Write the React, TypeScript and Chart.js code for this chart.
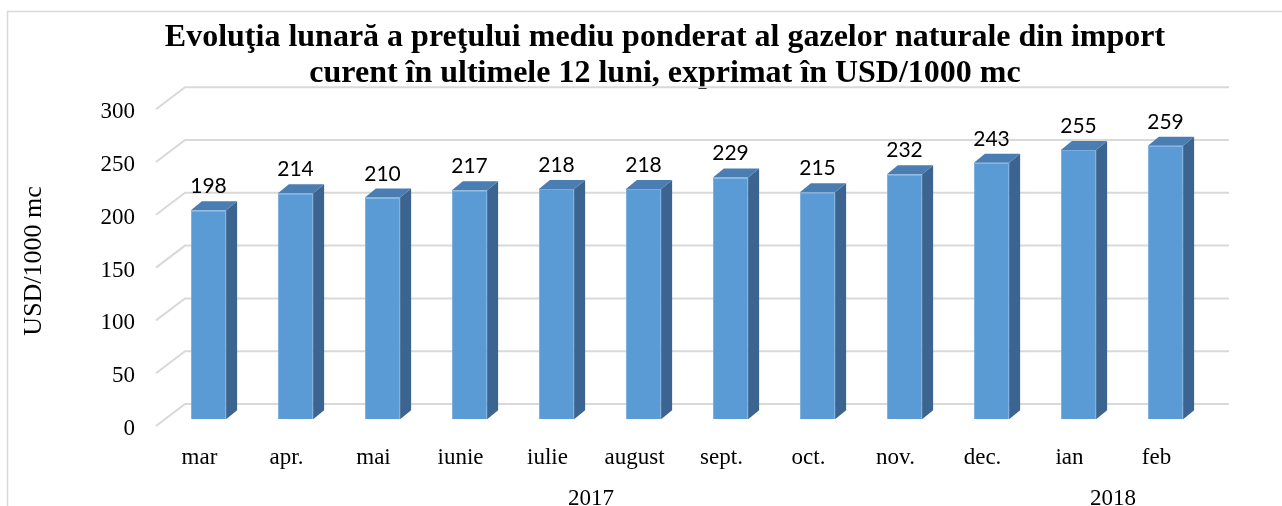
import React, { useEffect, useRef } from "react";
import { Chart, registerables } from "chart.js";

Chart.register(...registerables);

// ---- data ----
const months = ["mar", "apr.", "mai", "iunie", "iulie", "august", "sept.", "oct.", "nov.", "dec.", "ian", "feb"];
const prices = [198, 214, 210, 217, 218, 218, 229, 215, 232, 243, 255, 259];
const years = ["2017", "2018"];
const yearSpans = [10, 2];
const yMin = 0;
const yMax = 300;
const yStep = 50;
const titleLines = [
  "Evoluţia lunară a preţului mediu ponderat al gazelor naturale din import",
  "curent în ultimele 12 luni, exprimat în USD/1000 mc",
];
const yAxisTitle = "USD/1000 mc";

// ---- look ----
const W = 1282;
const H = 506;
const SERIF = "'Liberation Serif', 'Times New Roman', serif";
const SANS = "Lato, 'Open Sans', sans-serif";
const GRID = "#d9d9d9";
const FRONT = "#5b9bd5";
const SIDE = "#3b6590";
const TOP = "#4a7db2";
// 3D offsets relative to the bar plane
const BACK_DX = 20;
const BACK_DY = -15.3;
const FRONT_DX = -9;
const FRONT_DY = 6.7;
const DEPTH_DX = 11;
const DEPTH_DY = -9;

const threeD = {
  id: "threeD",
  beforeDraw(chart: any) {
    const ctx = chart.ctx;
    ctx.save();
    ctx.fillStyle = "#fff";
    ctx.fillRect(0, 0, W, H);
    ctx.strokeStyle = GRID;
    ctx.lineWidth = 1.5;
    ctx.beginPath();
    ctx.moveTo(7.5, H);
    ctx.lineTo(7.5, 11.5);
    ctx.lineTo(W, 11.5);
    ctx.stroke();
    ctx.fillStyle = "#000";
    ctx.font = `bold 32px ${SERIF}`;
    ctx.textAlign = "center";
    ctx.textBaseline = "alphabetic";
    titleLines.forEach((t, i) => ctx.fillText(t, 665, 46 + i * 36));
    ctx.restore();
  },
  beforeDatasetsDraw(chart: any) {
    const { ctx, chartArea: a } = chart;
    const y = chart.scales.y;
    ctx.save();
    ctx.strokeStyle = GRID;
    ctx.lineWidth = 2;
    y.ticks.forEach((t: any) => {
      const py = y.getPixelForValue(t.value);
      ctx.beginPath();
      ctx.moveTo(a.left + FRONT_DX, py + FRONT_DY);
      ctx.lineTo(a.left + BACK_DX, py + BACK_DY);
      ctx.lineTo(a.right + BACK_DX, py + BACK_DY);
      ctx.stroke();
    });
    ctx.restore();
  },
  afterDatasetsDraw(chart: any) {
    const ctx = chart.ctx;
    const meta = chart.getDatasetMeta(0);
    ctx.save();
    meta.data.forEach((bar: any, i: number) => {
      const { x, y, base, width } = bar.getProps(["x", "y", "base", "width"], true);
      const l = x - width / 2;
      const r = x + width / 2;
      ctx.fillStyle = SIDE;
      ctx.beginPath();
      ctx.moveTo(r, y);
      ctx.lineTo(r + DEPTH_DX, y + DEPTH_DY);
      ctx.lineTo(r + DEPTH_DX, base + DEPTH_DY);
      ctx.lineTo(r, base);
      ctx.closePath();
      ctx.fill();
      ctx.fillStyle = TOP;
      ctx.beginPath();
      ctx.moveTo(l, y);
      ctx.lineTo(l + DEPTH_DX, y + DEPTH_DY);
      ctx.lineTo(r + DEPTH_DX, y + DEPTH_DY);
      ctx.lineTo(r, y);
      ctx.closePath();
      ctx.fill();
      ctx.fillStyle = "#000";
      ctx.font = `21px ${SANS}`;
      ctx.textAlign = "center";
      ctx.textBaseline = "alphabetic";
      ctx.fillText(String(chart.data.datasets[0].data[i]), x, y - 17);
    });
    const xs = chart.scales.x;
    ctx.font = `23px ${SERIF}`;
    ctx.textAlign = "center";
    ctx.textBaseline = "middle";
    ctx.fillStyle = "#000";
    let start = 0;
    years.forEach((yr, k) => {
      const end = start + yearSpans[k] - 1;
      const cx = (xs.getPixelForValue(start) + xs.getPixelForValue(end)) / 2 + FRONT_DX;
      ctx.fillText(yr, cx, 499);
      start += yearSpans[k];
    });
    ctx.restore();
  },
};

export default function App() {
  const ref = useRef<HTMLCanvasElement | null>(null);
  useEffect(() => {
    if (!ref.current) return;
    const chart = new Chart(ref.current, {
      type: "bar",
      data: {
        labels: months,
        datasets: [
          {
            data: prices,
            backgroundColor: FRONT,
            borderColor: "#78addd",
            borderWidth: 1,
            barPercentage: 0.405,
            categoryPercentage: 1,
          },
        ],
      },
      options: {
        responsive: false,
        animation: false,
        events: [],
        layout: { padding: { left: 0, top: 102.5, right: 73, bottom: 0 } },
        plugins: {
          legend: { display: false },
          title: { display: false },
          tooltip: { enabled: false },
        },
        scales: {
          x: {
            type: "category",
            grid: { display: false, drawTicks: false },
            border: { display: false },
            ticks: {
              font: { family: SERIF, size: 23 },
              color: "#000",
              padding: 25,
              labelOffset: FRONT_DX,
              maxRotation: 0,
              autoSkip: false,
            },
            afterFit: (s: any) => {
              s.height = 86.7;
            },
          },
          y: {
            min: yMin,
            max: yMax,
            grid: { display: false, drawTicks: false },
            border: { display: false },
            ticks: {
              stepSize: yStep,
              padding: 30,
              labelOffset: FRONT_DY + 3,
              font: { family: SERIF, size: 23 },
              color: "#000",
            },
            title: {
              display: true,
              text: yAxisTitle,
              color: "#000",
              font: { family: SERIF, size: 26 },
              padding: { top: 19, bottom: 0 },
            },
            afterFit: (s: any) => {
              s.width = 165;
            },
          },
        },
      },
      plugins: [threeD],
    });
    return () => chart.destroy();
  }, []);
  return (
    <div style={{ position: "absolute", left: 0, top: 0, width: W, height: H, background: "#fff" }}>
      <canvas ref={ref} width={W} height={H} style={{ display: "block" }} />
    </div>
  );
}
